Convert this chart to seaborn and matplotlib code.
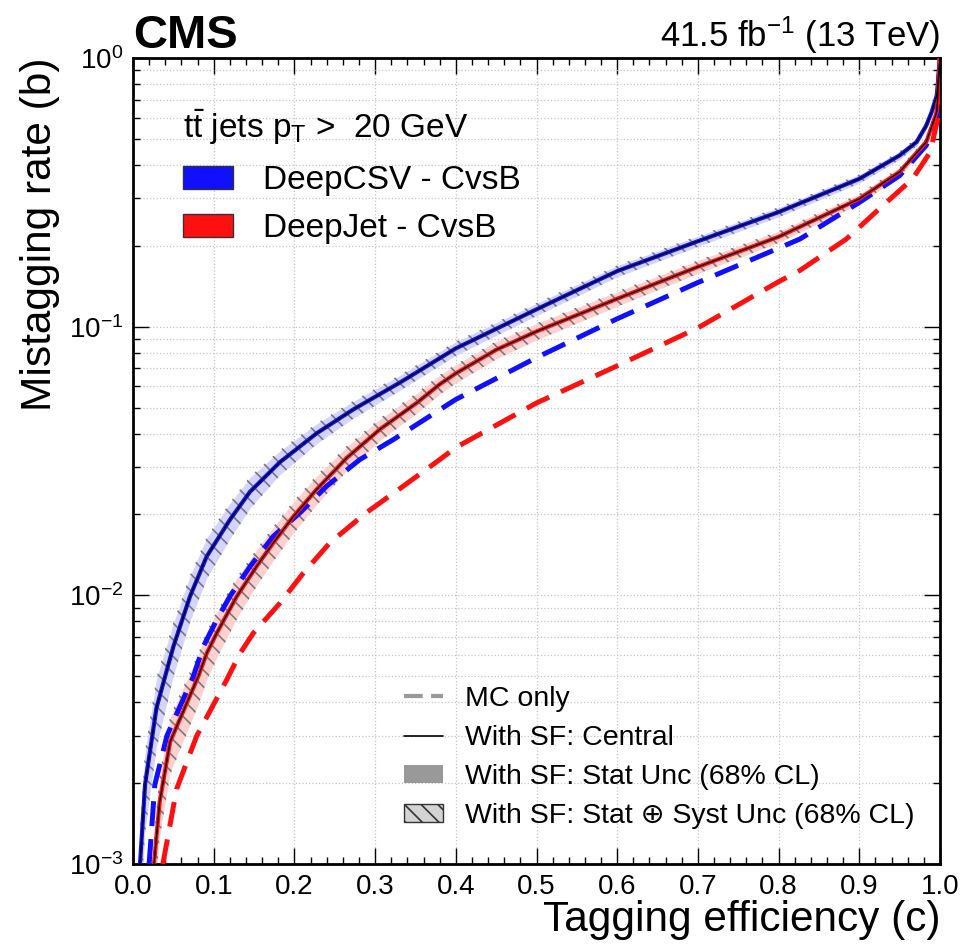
import numpy as np
import pandas as pd
import matplotlib
matplotlib.use("Agg")
import matplotlib.pyplot as plt
import seaborn as sns
from matplotlib.patches import Patch
from matplotlib.lines import Line2D
from matplotlib.ticker import MultipleLocator, LogLocator, NullFormatter

# DeepCSV with SF (central) and its relative uncertainties
deepcsv_sf_x = [0.0087, 0.0149, 0.029, 0.0397, 0.050, 0.0706, 0.0913, 0.120, 0.145, 0.182,
                0.2276, 0.273, 0.331, 0.4, 0.5, 0.6, 0.7, 0.8, 0.9, 0.95,
                0.971, 0.983, 0.9897, 0.996, 0.9979, 1.0]
deepcsv_sf_y = [0.001, 0.00197, 0.0038, 0.00498, 0.00644, 0.0099, 0.01396, 0.0191, 0.0243, 0.0313,
                0.0401, 0.0492, 0.062, 0.083, 0.116, 0.161, 0.208, 0.267, 0.355, 0.434,
                0.487, 0.561, 0.63, 0.726, 0.84, 1.0]
deepcsv_stat = [0.34, 0.32, 0.28, 0.25, 0.22, 0.19, 0.17, 0.15, 0.13, 0.1,
                0.085, 0.072, 0.064, 0.058, 0.052, 0.048, 0.044, 0.04, 0.036, 0.034,
                0.033, 0.032, 0.031, 0.03, 0.03, 0.03]
deepcsv_tot = [0.36, 0.34, 0.30, 0.27, 0.23, 0.2, 0.18, 0.16, 0.14, 0.11,
               0.09, 0.077, 0.068, 0.062, 0.056, 0.052, 0.047, 0.043, 0.039, 0.037,
               0.036, 0.035, 0.034, 0.033, 0.033, 0.033]

# DeepCSV MC only
deepcsv_mc_x = [0.020, 0.027, 0.042, 0.0747, 0.087, 0.1037, 0.120, 0.145, 0.174, 0.207,
                0.240, 0.281, 0.3226, 0.368, 0.4, 0.5, 0.6, 0.7, 0.8, 0.8265,
                0.9, 0.95, 0.983, 0.996, 1.0]
deepcsv_mc_y = [0.001, 0.00197, 0.003, 0.00498, 0.00644, 0.0081, 0.0099, 0.0128, 0.0166, 0.0203,
                0.0255, 0.032, 0.038, 0.0465, 0.0536, 0.0767, 0.107, 0.146, 0.196, 0.212,
                0.29, 0.365, 0.473, 0.595, 1.0]

# DeepJet with SF (central) and its relative uncertainties
deepjet_sf_x = [0.026, 0.033, 0.046, 0.081, 0.0913, 0.1037, 0.1285, 0.153, 0.174, 0.199,
                0.2276, 0.265, 0.306, 0.3515, 0.380, 0.4, 0.45, 0.5, 0.6, 0.7,
                0.8, 0.9, 0.95, 0.983, 0.996, 1.0]
deepjet_sf_y = [0.001, 0.0017, 0.00285, 0.0050, 0.00608, 0.00723, 0.0099, 0.0128, 0.0157, 0.0197,
                0.0248, 0.0325, 0.0415, 0.052, 0.061, 0.067, 0.082, 0.096, 0.127, 0.167,
                0.216, 0.299, 0.377, 0.487, 0.63, 1.0]
deepjet_stat = [0.26, 0.25, 0.23, 0.21, 0.2, 0.19, 0.17, 0.15, 0.14, 0.13,
                0.12, 0.1, 0.09, 0.085, 0.08, 0.078, 0.074, 0.07, 0.062, 0.055,
                0.048, 0.042, 0.038, 0.035, 0.032, 0.03]
deepjet_tot = [0.28, 0.27, 0.25, 0.22, 0.21, 0.2, 0.18, 0.16, 0.15, 0.14,
               0.13, 0.11, 0.1, 0.09, 0.085, 0.082, 0.078, 0.074, 0.066, 0.058,
               0.051, 0.045, 0.04, 0.037, 0.034, 0.032]

# DeepJet MC only
deepjet_mc_x = [0.037, 0.054, 0.079, 0.116, 0.1326, 0.149, 0.182, 0.211, 0.244, 0.289,
                0.335, 0.380, 0.4, 0.5, 0.6, 0.7, 0.8, 0.8265, 0.884, 0.929,
                0.966, 0.988, 0.998, 1.0]
deepjet_mc_y = [0.001, 0.0019, 0.003, 0.00484, 0.00608, 0.00723, 0.00935, 0.0121, 0.0157, 0.0203,
                0.0255, 0.032, 0.0355, 0.052, 0.0715, 0.099, 0.147, 0.162, 0.212, 0.282,
                0.355, 0.447, 0.61, 1.0]

taggers = ["DeepCSV - CvsB", "DeepJet - CvsB"]
colors = {"DeepCSV - CvsB": "#1010ff", "DeepJet - CvsB": "#ff1010"}
band_colors = {"DeepCSV - CvsB": "#d4d4ff", "DeepJet - CvsB": "#ffd0d0"}

sf = pd.concat([
    pd.DataFrame({"eff": deepcsv_sf_x, "mistag": deepcsv_sf_y, "stat": deepcsv_stat,
                  "tot": deepcsv_tot, "tagger": taggers[0]}),
    pd.DataFrame({"eff": deepjet_sf_x, "mistag": deepjet_sf_y, "stat": deepjet_stat,
                  "tot": deepjet_tot, "tagger": taggers[1]}),
])
mc = pd.concat([
    pd.DataFrame({"eff": deepcsv_mc_x, "mistag": deepcsv_mc_y, "tagger": taggers[0]}),
    pd.DataFrame({"eff": deepjet_mc_x, "mistag": deepjet_mc_y, "tagger": taggers[1]}),
])

sns.set_style("ticks")
plt.rcParams.update({
    "font.family": ["Liberation Sans", "DejaVu Sans"],
    "mathtext.fontset": "custom",
    "mathtext.rm": "Liberation Sans",
    "mathtext.it": "Liberation Sans:italic",
    "mathtext.bf": "Liberation Sans:bold",
    "hatch.linewidth": 1.2,
    "axes.linewidth": 2.0,
    "axes.edgecolor": "black",
    "text.color": "black",
    "axes.labelcolor": "black",
    "xtick.color": "black",
    "ytick.color": "black",
})

fig = plt.figure(figsize=(9.64, 9.48), dpi=100)
ax = fig.add_axes([0.13797, 0.08861, 0.83714, 0.85021])

# uncertainty bands
for name in taggers:
    d = sf[sf.tagger == name]
    ax.fill_between(d.eff, d.mistag * (1 - d.stat), d.mistag * (1 + d.stat),
                    color=band_colors[name], linewidth=0, zorder=2)
    ax.fill_between(d.eff, d.mistag * (1 - d.tot), d.mistag * (1 + d.tot),
                    facecolor="none", edgecolor="#777777", hatch="\\\\", linewidth=0, zorder=3)

# MC only (dashed)
for name in taggers:
    sns.lineplot(data=mc[mc.tagger == name], x="eff", y="mistag", ax=ax, estimator=None,
                 color=colors[name], linewidth=3.6, linestyle=(0, (5, 2.6)), zorder=4)

# with SF central
for name in taggers:
    d = sf[sf.tagger == name]
    sns.lineplot(data=d, x="eff", y="mistag", ax=ax, estimator=None,
                 color=colors[name], linewidth=3.0, zorder=5)
    sns.lineplot(data=d, x="eff", y="mistag", ax=ax, estimator=None,
                 color="black", linewidth=1.0, zorder=6)

ax.set_yscale("log")
ax.set_xlim(0, 1)
ax.set_ylim(1e-3, 1)
ax.xaxis.set_major_locator(MultipleLocator(0.1))
ax.xaxis.set_minor_locator(MultipleLocator(0.02))
ax.xaxis.set_major_formatter(plt.FuncFormatter(lambda v, p: f"{v:.1f}"))
ax.yaxis.set_minor_locator(LogLocator(base=10, subs=np.arange(2, 10), numticks=20))
ax.yaxis.set_minor_formatter(NullFormatter())
ax.tick_params(which="both", direction="in", bottom=True, left=True, top=True, right=True,
               labelsize=20, pad=7)
ax.tick_params(which="major", length=11.5, width=1.0)
ax.tick_params(which="minor", length=5, width=1.0)
ax.grid(True, which="major", axis="x", linestyle=":", color="#c4c4c4", linewidth=0.9)
ax.grid(True, which="both", axis="y", linestyle=":", color="#c4c4c4", linewidth=0.9)
ax.set_axisbelow(True)

ax.set_xlabel("Tagging efficiency (c)", fontsize=30.5, loc="right", labelpad=0)
ax.set_ylabel("Mistagging rate (b)", fontsize=30.5, loc="top", labelpad=6)

fig.text(133 / 964, 1 - 48 / 948, "CMS", fontsize=34, fontweight="bold", ha="left", va="baseline")
fig.text(940 / 964, 1 - 47 / 948, r"41.5 fb$^{-1}$ (13 TeV)", fontsize=25, ha="right", va="baseline")

# tagger legend
fig.text(183 / 964, 1 - 138 / 948, r"$\mathrm{t\bar{t}}$ jets p$_\mathrm{T}$ >  20 GeV", fontsize=24,
         ha="left", va="baseline")
tag_handles = [Patch(facecolor=colors[n], edgecolor="#333333", linewidth=1.0) for n in taggers]
leg1 = ax.legend(tag_handles, taggers, loc="upper left", bbox_to_anchor=(183 / 964, 1 - 165 / 948),
                 bbox_transform=fig.transFigure, frameon=False, borderpad=0, borderaxespad=0,
                 fontsize=24, handlelength=1.5, handleheight=0.69, handletextpad=0.9,
                 labelspacing=0.52)
ax.add_artist(leg1)

# style legend
style_handles = [
    Line2D([], [], color="#999999", linewidth=3, linestyle=(0, (4.5, 2))),
    Line2D([], [], color="black", linewidth=1.2),
    Patch(facecolor="#999999", edgecolor="none"),
    Patch(facecolor="#d3d3d3", edgecolor="#333333", hatch="\\\\", linewidth=1.0),
]
style_labels = ["MC only", "With SF: Central", "With SF: Stat Unc (68% CL)",
                "With SF: Stat \u2295 Syst Unc (68% CL)"]
ax.legend(style_handles, style_labels, loc="upper left", bbox_to_anchor=(404 / 964, 1 - 686 / 948),
          bbox_transform=fig.transFigure, frameon=False, borderpad=0, borderaxespad=0,
          fontsize=20.5, handlelength=1.37, handleheight=0.6, handletextpad=0.77,
          labelspacing=0.46)

fig.savefig("out.png", dpi=100)
